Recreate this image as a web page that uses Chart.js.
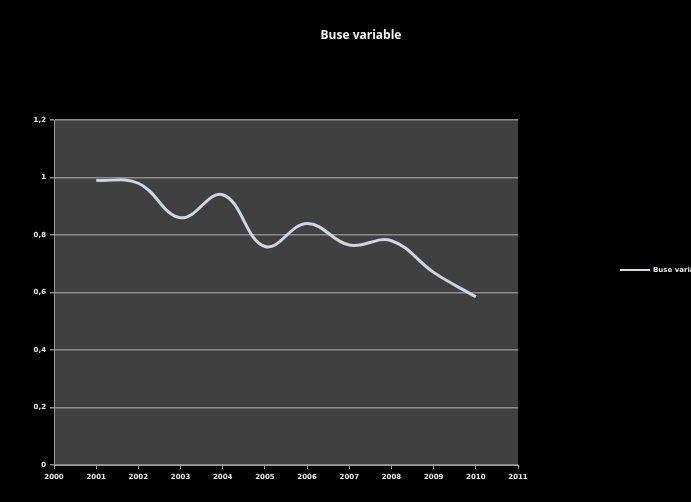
<!DOCTYPE html>
<html>
<head>
<meta charset="utf-8">
<script src="https://cdn.jsdelivr.net/npm/chart.js@4"></script>
<style>
  html, body { margin: 0; padding: 0; background: #000; overflow: hidden; }
  #wrap { position: relative; width: 691px; height: 502px; }
  #titre { position: absolute; left: 286px; top: 26px; width: 150px; text-align: center;
    font: bold 12px "Open Sans", "DejaVu Sans", sans-serif; color: #f2f2f2; }
  #legende { position: absolute; left: 620px; top: 266px; white-space: nowrap;
    font: bold 7px "DejaVu Sans", sans-serif; color: #e6e6e6; }
  #legende span.trait { display: inline-block; width: 30px; height: 2px; background: #d9dfe9;
    vertical-align: middle; margin-right: 3px; }
</style>
</head>
<body>
<div id="wrap">
  <canvas id="chart" width="691" height="502"></canvas>
  <div id="titre">Buse variable</div>
  <div id="legende"><span class="trait"></span>Buse variable</div>
</div>
<script>
const annees = [2001, 2002, 2003, 2004, 2005, 2006, 2007, 2008, 2009, 2010];
const valeurs = [0.99, 0.98, 0.86, 0.94, 0.76, 0.84, 0.765, 0.78, 0.67, 0.585];
const yTicks = [0, 0.2, 0.4, 0.6, 0.8, 1, 1.2];

const fondZone = {
  id: 'fondZone',
  beforeDraw(chart) {
    const { ctx, chartArea: a } = chart;
    ctx.save();
    ctx.fillStyle = '#404040';
    ctx.fillRect(a.left, a.top, a.right - a.left, a.bottom - a.top);
    ctx.restore();
  }
};

const ctx = document.getElementById('chart').getContext('2d');
new Chart(ctx, {
  type: 'line',
  data: {
    datasets: [{
      label: 'Buse variable',
      data: annees.map((a, i) => ({ x: a, y: valeurs[i] })),
      borderColor: '#cdd6e6',
      borderWidth: 3,
      pointRadius: 0,
      tension: 0.4,
      fill: false
    }]
  },
  options: {
    responsive: false,
    animation: false,
    layout: { padding: { top: 120, right: 173, left: 0, bottom: 0 } },
    plugins: {
      legend: { display: false },
      title: { display: false },
      tooltip: { enabled: false }
    },
    scales: {
      x: {
        type: 'linear',
        min: 2000,
        max: 2011,
        afterFit: s => { s.height = 37; },
        ticks: {
          stepSize: 1,
          color: '#e6e6e6',
          font: { size: 7, weight: 'bold', family: 'DejaVu Sans' },
          padding: 4,
          maxRotation: 0,
          callback: v => String(v)
        },
        grid: { drawOnChartArea: false, color: '#999', tickLength: 4 },
        border: { color: '#999', width: 1 }
      },
      y: {
        min: 0,
        max: 1.2,
        afterFit: s => { s.width = 54; },
        afterBuildTicks: s => { s.ticks = yTicks.map(v => ({ value: v })); },
        ticks: {
          color: '#e6e6e6',
          font: { size: 7, weight: 'bold', family: 'DejaVu Sans' },
          padding: 4,
          callback: v => String(+v.toFixed(1)).replace('.', ',')
        },
        grid: { color: '#8c8c8c', lineWidth: 1.5, tickLength: 4 },
        border: { color: '#999', width: 1 }
      }
    }
  },
  plugins: [fondZone]
});
</script>
</body>
</html>
